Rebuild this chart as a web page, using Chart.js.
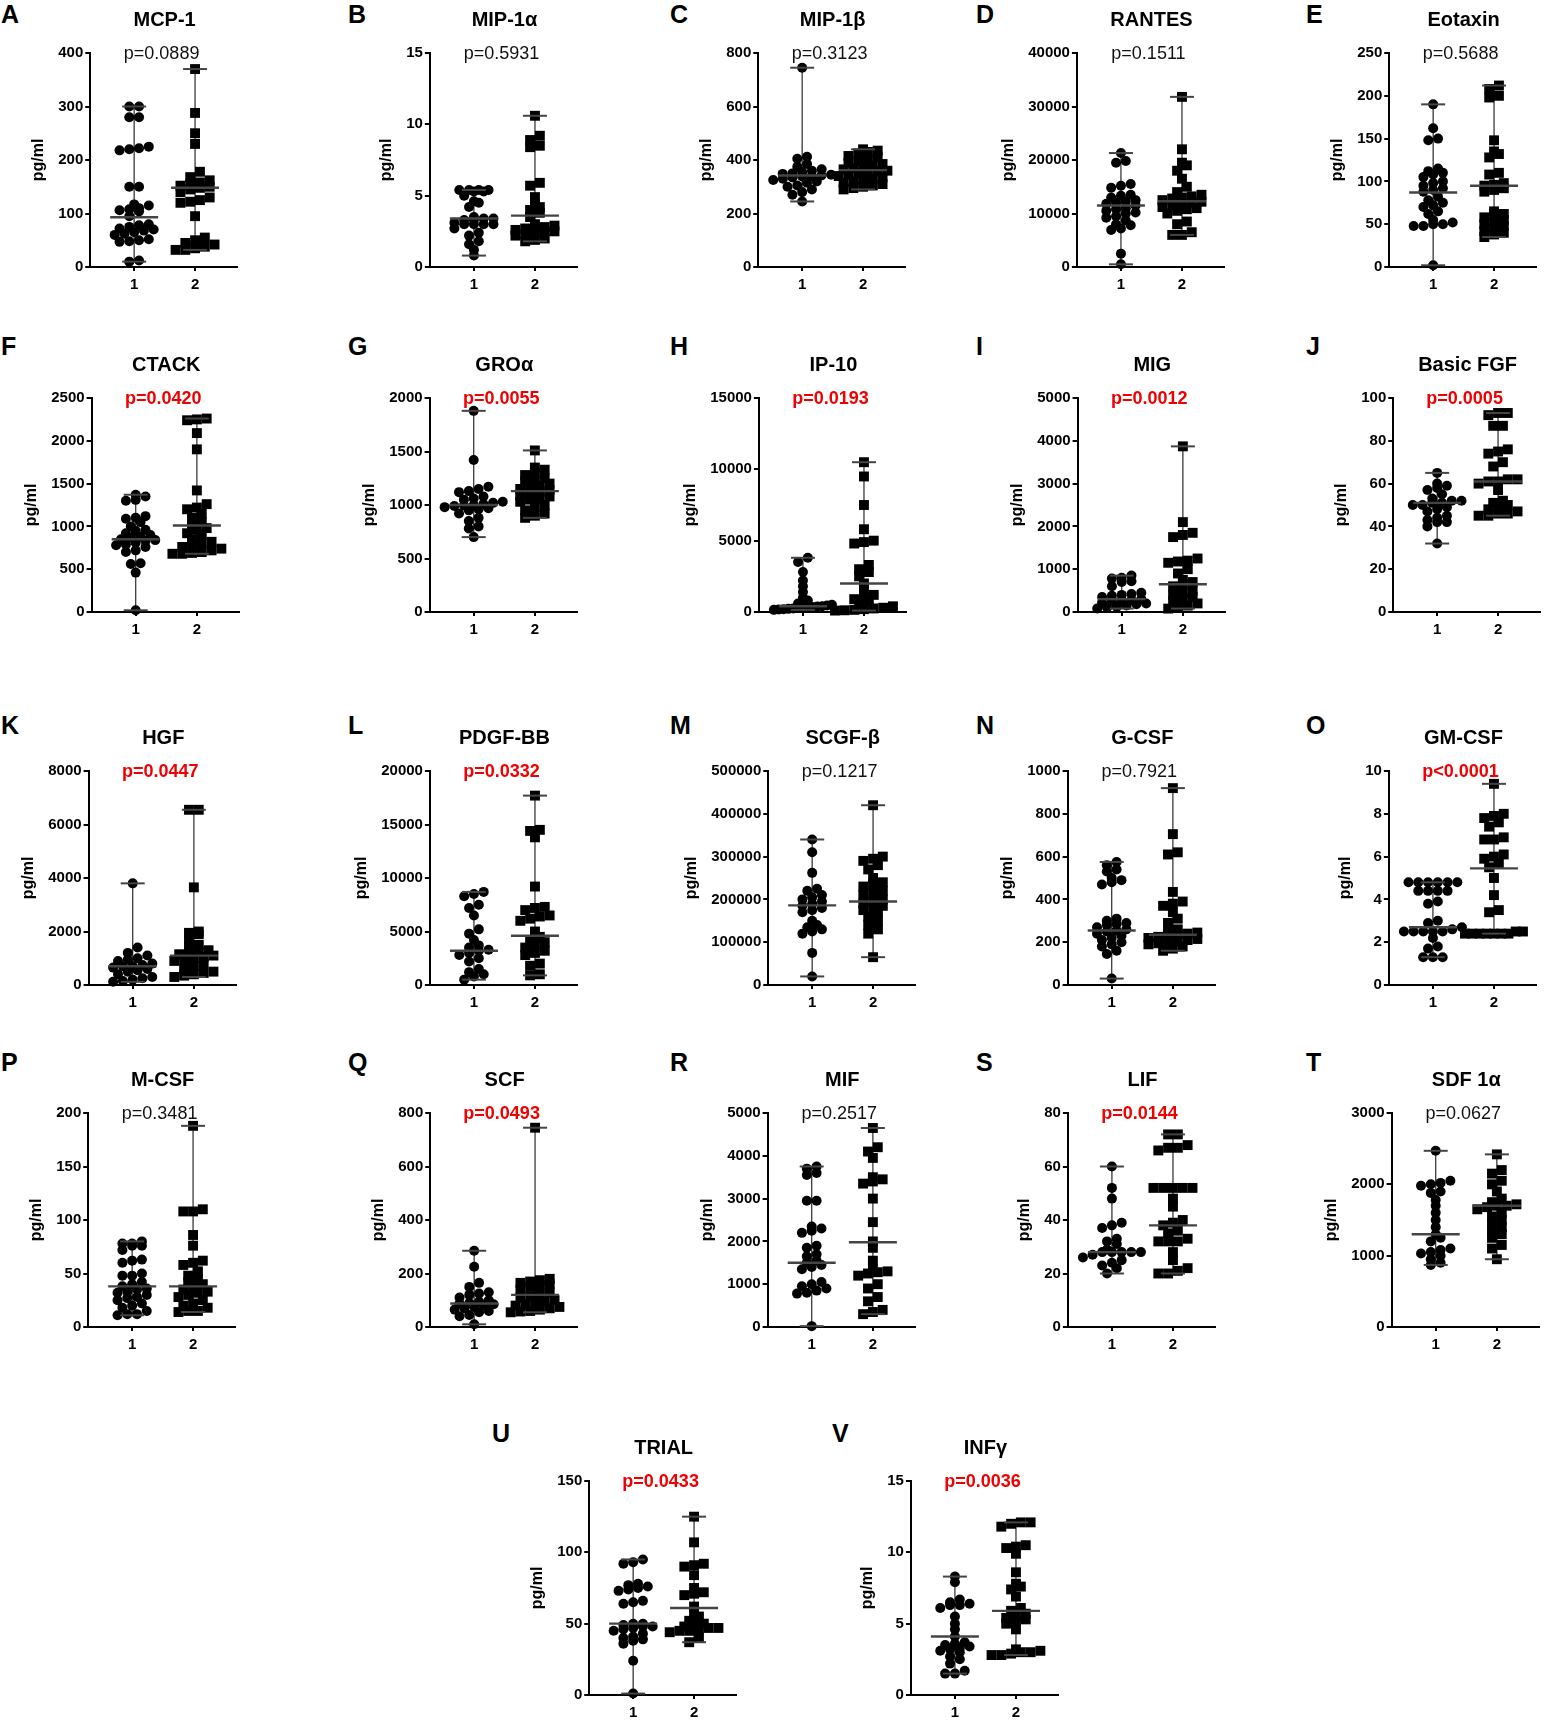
<!DOCTYPE html>
<html>
<head>
<meta charset="utf-8">
<script src="https://cdn.jsdelivr.net/npm/chart.js@4.4.1/dist/chart.umd.min.js"></script>
<style>
  body { margin: 0; background: #fff; }
  #page { position: relative; width: 1550px; height: 1726px; overflow: hidden; font-family: "Liberation Sans", Arial, sans-serif; }
  .panel { position: absolute; }
  .letter { position: absolute; font-weight: bold; font-size: 25px; line-height: 25px; color: #000; }
</style>
</head>
<body>
<div id="page"></div>
<script>
// Панели: буква, название, p-значение
const letters = ['A','B','C','D','E','F','G','H','I','J','K','L','M','N','O','P','Q','R','S','T','U','V'];
const titles = ['MCP-1','MIP-1α','MIP-1β','RANTES','Eotaxin','CTACK','GROα','IP-10','MIG','Basic FGF',
  'HGF','PDGF-BB','SCGF-β','G-CSF','GM-CSF','M-CSF','SCF','MIF','LIF','SDF 1α','TRIAL','INFγ'];
const pLabels = ['p=0.0889','p=0.5931','p=0.3123','p=0.1511','p=0.5688','p=0.0420','p=0.0055','p=0.0193','p=0.0012','p=0.0005',
  'p=0.0447','p=0.0332','p=0.1217','p=0.7921','p<0.0001','p=0.3481','p=0.0493','p=0.2517','p=0.0144','p=0.0627','p=0.0433','p=0.0036'];
const significant = [false,false,false,false,false,true,true,true,true,true,
  true,true,false,false,true,false,true,false,true,false,true,true];

// Оси Y
const yMax  = [400,15,800,40000,250,2500,2000,15000,5000,100,8000,20000,500000,1000,10,200,800,5000,80,3000,150,15];
const yStep = [100,5,200,10000,50,500,500,5000,1000,20,2000,5000,100000,200,2,50,200,1000,20,1000,50,5];
const xLabels = ['1','2'];

// Медианы групп
const median1 = [93,3.4,342,11500,87,850,1000,400,300,51,700,3200,186000,255,2.7,38,88,1500,28,1300,50,4.1];
const median2 = [148,3.6,362,12300,95,1010,1130,2000,650,61,1100,4600,195000,235,5.45,38,120,1980,38,1700,61,5.9];

// Значения группы 1 (кружки)
const group1 = [
  [300,300,280,280,225,222,220,218,150,150,117,115,110,108,106,104,95,80,78,75,72,70,68,65,62,60,52,50,48,47,12,10],
  [5.4,5.4,5.4,5.4,5.3,5.3,5.0,4.6,4.5,4.2,3.5,3.4,3.4,3.3,3.3,3.1,3.0,3.0,3.0,3.0,2.7,2.4,2.2,1.8,1.6,1.2,0.8],
  [745,412,405,385,375,365,360,355,350,348,345,342,340,338,335,330,325,320,315,305,300,290,280,270,245],
  [21300,19800,19500,15500,15200,14800,13500,13300,13000,12500,12200,12000,11800,11500,11000,10800,10500,10200,10000,9500,9200,8700,8000,7800,7200,6900,2500,500],
  [190,162,150,148,115,112,110,108,105,100,98,95,92,90,88,82,78,75,72,70,65,62,55,52,50,50,48,48,2],
  [1370,1350,1310,1300,1120,1100,1090,1050,1000,960,950,920,900,880,870,850,840,830,810,790,780,760,720,700,570,560,460,20],
  [1880,1420,1170,1150,1130,1120,1080,1060,1050,1030,1020,1010,1000,995,990,980,970,960,950,920,880,850,800,780,700],
  [3800,3500,2800,2200,1800,1400,1000,800,600,500,450,400,380,350,320,300,280,250,220,200,180,150],
  [850,800,780,720,700,600,450,420,400,380,350,300,280,260,250,220,200,180,150,120,100,80],
  [65,60,59,58,57,55,53,52,52,51,51,50,50,49,48,47,45,44,43,42,42,40,32],
  [3800,1400,1200,1100,1000,950,900,800,750,700,700,650,600,550,500,400,300,250,200,150,120],
  [8700,8500,8300,7500,7200,6500,5200,4800,4200,3700,3500,3300,3200,3000,2800,2500,2200,1500,1200,1000,800,500],
  [340000,310000,262000,225000,220000,210000,205000,200000,195000,190000,185000,180000,175000,170000,150000,140000,135000,130000,125000,120000,75000,20000],
  [575,560,540,530,500,490,480,470,310,300,290,285,280,270,260,255,250,240,230,220,210,200,190,180,160,145,30],
  [4.8,4.8,4.8,4.8,4.8,4.8,4.4,4.4,4.4,4.4,3.9,3.8,3.0,2.9,2.7,2.6,2.5,2.5,2.5,2.5,2.5,2.2,1.8,1.7,1.3,1.3,1.3],
  [80,78,78,76,76,72,63,62,60,50,48,48,42,40,38,36,35,33,32,30,28,27,25,22,20,18,15,12,12,11],
  [285,225,165,150,130,125,120,110,100,95,90,88,85,80,75,70,65,60,55,45,40,10],
  [3750,3700,3600,3550,2950,2950,2350,2300,2250,2200,1900,1850,1700,1650,1550,1500,1450,1400,1350,1050,1000,950,900,850,800,780,20],
  [60,52,48,39,38,37,33,32,31,29,28,28,28,28,28,27,26,25,24,23,22,20],
  [2470,2050,2020,2000,1980,1900,1880,1780,1700,1600,1500,1400,1300,1250,1200,1100,1080,1050,1030,1000,950,900,870],
  [95,93,92,78,77,76,75,74,73,66,65,64,50,50,49,48,48,47,46,45,43,41,40,39,38,36,24,1],
  [8.3,7.9,6.7,6.5,6.4,6.3,6.3,6.1,5.5,5.0,4.6,4.1,3.7,3.6,3.5,3.4,3.3,3.2,3.1,3.0,2.7,2.5,2.2,1.7,1.5,1.5]
];

// Значения группы 2 (квадраты)
const group2 = [
  [370,288,250,230,178,168,162,158,155,152,150,148,145,140,130,125,122,120,95,55,50,45,42,38,35,32,32],
  [10.6,9.2,8.9,8.5,8.4,5.9,5.7,4.9,4.4,4.2,4.0,3.8,3.5,3.0,2.9,2.8,2.7,2.7,2.6,2.5,2.5,2.4,2.3,2.2,2.0,1.9,1.8],
  [440,435,430,425,415,410,400,395,390,385,380,375,370,365,360,358,355,350,345,340,335,330,325,320,315,310,305,300,295,290],
  [31800,22000,19500,19000,18000,16500,15000,14000,13500,13200,13000,12800,12500,12200,12000,11800,11500,11200,11000,10800,10500,10000,8500,8000,6500,6000,6000],
  [212,208,200,198,148,135,132,128,110,108,98,96,95,92,90,88,65,62,60,58,55,52,50,48,45,42,40,38,35],
  [2260,2250,2240,2090,1900,1420,1260,1220,1200,1150,1100,1050,1000,980,960,920,900,850,820,800,780,760,740,720,700,690,680,680],
  [1510,1350,1330,1300,1280,1250,1230,1220,1200,1180,1160,1150,1140,1120,1100,1090,1080,1060,1050,1030,1000,980,950,920,900,880],
  [10500,9500,7500,5800,5000,4900,4800,3300,3000,2800,2500,2000,1500,1200,1000,900,800,500,400,300,250,200,150,120,100],
  [3870,2100,1850,1800,1750,1250,1200,1180,1150,1000,900,750,700,650,600,500,450,400,350,300,250,200,150,100,80],
  [93,93,92,87,87,76,75,74,70,68,62,62,61,61,60,57,52,51,50,49,48,47,46,46,45,45],
  [6550,6550,3650,2000,1950,1900,1700,1500,1400,1300,1250,1200,1150,1100,1050,1000,950,900,800,700,600,500,450,400,350,300],
  [17700,14500,14400,13800,9200,7300,7200,7000,6500,6400,6200,6000,5000,4500,4200,4000,3800,3500,3200,3000,2800,2000,1800,1000,900],
  [420000,300000,295000,290000,280000,270000,250000,240000,235000,230000,220000,215000,210000,200000,195000,190000,185000,180000,175000,170000,160000,150000,140000,130000,120000,65000],
  [920,705,620,610,435,390,380,370,340,310,290,260,250,245,240,235,230,225,220,215,210,205,200,195,190,180,170,160],
  [9.4,8.0,7.9,7.8,7.6,7.4,6.9,6.8,6.8,6.1,6.0,5.9,5.7,5.5,5.0,4.2,3.5,3.4,2.5,2.5,2.4,2.4,2.4,2.4,2.4,2.4,2.4],
  [188,110,108,108,86,76,62,60,58,52,48,45,42,40,38,35,33,32,30,28,25,22,20,18,15,15,14],
  [745,180,175,170,165,160,155,150,140,130,120,115,110,100,95,90,85,80,75,70,65,60,58,55],
  [4650,4200,4100,3950,3500,3450,3400,3350,3000,2450,2000,1850,1550,1350,1300,1280,1250,1200,1000,900,700,600,400,350,300],
  [72,72,68,67,67,66,52,52,52,52,52,48,45,40,39,38,36,35,33,32,32,32,28,25,22,21,20,20],
  [2420,2200,2150,2050,2000,1900,1800,1750,1720,1700,1700,1680,1650,1600,1550,1500,1450,1400,1350,1300,1250,1150,1100,950],
  [125,107,92,91,90,84,75,72,71,70,62,58,55,52,50,49,48,47,47,46,45,45,44,40,37],
  [12.1,12.1,12.0,11.8,10.5,10.4,10.3,9.9,8.6,7.8,7.6,7.4,6.9,6.1,5.9,5.7,5.5,5.4,5.3,5.2,5.0,4.6,3.2,3.1,3.0,3.0,2.9,2.8,2.8]
];

// Раскладка панелей на странице
const panelRow = [0,0,0,0,0, 1,1,1,1,1, 2,2,2,2,2, 3,3,3,3,3, 4,4];
const rowTop = [53, 398, 771, 1113, 1481];
const letterRowY = [14, 346, 725, 1062, 1433];
const g1X = [134,474,802,1121,1433, 136,474,803,1122,1437, 133,474,812,1112,1433, 132,474,812,1112,1436, 633,955];
const letterX = [1,348,670,976,1306, 1,348,670,976,1306, 1,348,670,976,1306, 1,348,670,976,1306, 492,832];
const GAP = 61;        // пикселей между группами 1 и 2
const AXIS_OFF = 44;   // от оси Y до группы 1
const RIGHT_OFF = 42;  // от группы 2 до конца оси X
const PLOT_H = 214;
const X_MIN = 1 - AXIS_OFF / GAP;
const X_MAX = 2 + RIGHT_OFF / GAP;
const PLOT_W = (X_MAX - X_MIN) * GAP;
const FONT = '"Liberation Sans", Arial, sans-serif';

// Раскладка точек рядами, как в GraphPad
function spread(values, top, center) {
  const tol = top * 0.026;
  const sorted = values.slice().sort((a, b) => a - b);
  const pts = [];
  let i = 0;
  while (i < sorted.length) {
    let j = i;
    while (j < sorted.length && sorted[j] - sorted[i] < tol) j++;
    const n = j - i;
    let d = 0.16;
    if ((n - 1) * d > 0.95) d = 0.95 / (n - 1);
    for (let k = 0; k < n; k++) {
      pts.push({ x: center + (k - (n - 1) / 2) * d, y: sorted[i + k] });
    }
    i = j;
  }
  return pts;
}

// Размах (min-max) и медиана
const rangeMarks = {
  id: 'rangeMarks',
  beforeDatasetsDraw(chart, args, opts) {
    const ctx = chart.ctx, xs = chart.scales.x, ys = chart.scales.y;
    ctx.save();
    ctx.strokeStyle = '#3a3a3a';
    ctx.lineWidth = 1.3;
    opts.groups.forEach(g => {
      const x = xs.getPixelForValue(g.x);
      ctx.beginPath();
      ctx.moveTo(x, ys.getPixelForValue(Math.min(...g.values)));
      ctx.lineTo(x, ys.getPixelForValue(Math.max(...g.values)));
      ctx.stroke();
    });
    ctx.restore();
  },
  afterDatasetsDraw(chart, args, opts) {
    const ctx = chart.ctx, xs = chart.scales.x, ys = chart.scales.y;
    ctx.save();
    ctx.strokeStyle = '#444';
    opts.groups.forEach(g => {
      const x = xs.getPixelForValue(g.x);
      ctx.lineWidth = 2;
      [Math.min(...g.values), Math.max(...g.values)].forEach(v => {
        const y = ys.getPixelForValue(v);
        ctx.beginPath(); ctx.moveTo(x - 12, y); ctx.lineTo(x + 12, y); ctx.stroke();
      });
      ctx.lineWidth = 2.4;
      const ym = ys.getPixelForValue(g.median);
      ctx.beginPath(); ctx.moveTo(x - 24, ym); ctx.lineTo(x + 24, ym); ctx.stroke();
    });
    ctx.restore();
  }
};

// Название и p-значение над графиком
const panelText = {
  id: 'panelText',
  afterDraw(chart, args, opts) {
    const ctx = chart.ctx, area = chart.chartArea;
    const cx = chart.scales.x.getPixelForValue(1.5);
    ctx.save();
    ctx.textAlign = 'center';
    ctx.textBaseline = 'middle';
    ctx.fillStyle = '#000';
    ctx.font = 'bold 20px ' + FONT;
    ctx.fillText(opts.title, cx, area.top - 33);
    ctx.font = (opts.sig ? 'bold ' : '') + '18px ' + FONT;
    ctx.fillStyle = opts.sig ? '#f00000' : '#111';
    ctx.fillText(opts.p, cx - 3, area.top + 1);
    ctx.restore();
  }
};

function makeConfig(i) {
  return {
    type: 'scatter',
    data: {
      datasets: [
        { data: spread(group1[i], yMax[i], 1), pointStyle: 'circle', pointRadius: 5,
          backgroundColor: '#000', borderWidth: 0, clip: false },
        { data: spread(group2[i], yMax[i], 2), pointStyle: 'rect', pointRadius: 7,
          backgroundColor: '#000', borderWidth: 0, clip: false }
      ]
    },
    options: {
      responsive: false,
      animation: false,
      events: [],
      layout: { padding: { top: 50, right: 4, bottom: 2, left: 2 } },
      plugins: {
        legend: { display: false },
        tooltip: { enabled: false },
        rangeMarks: { groups: [
          { x: 1, values: group1[i], median: median1[i] },
          { x: 2, values: group2[i], median: median2[i] }
        ] },
        panelText: { title: titles[i], p: pLabels[i], sig: significant[i] }
      },
      scales: {
        x: {
          type: 'linear', min: X_MIN, max: X_MAX,
          afterBuildTicks: s => { s.ticks = [{ value: 1 }, { value: 2 }]; },
          ticks: { callback: v => xLabels[v - 1], color: '#000', padding: 5,
                   font: { family: FONT, size: 15, weight: 'bold' }, maxRotation: 0 },
          grid: { drawOnChartArea: false, drawTicks: true, tickLength: 4, color: '#000', lineWidth: 2 },
          border: { display: true, color: '#000', width: 2 }
        },
        y: {
          min: 0, max: yMax[i],
          ticks: { stepSize: yStep[i], callback: v => String(v), color: '#000', padding: 2,
                   font: { family: FONT, size: 15, weight: 'bold' } },
          grid: { drawOnChartArea: false, drawTicks: true, tickLength: 5, color: '#000', lineWidth: 2 },
          border: { display: true, color: '#000', width: 2 },
          title: { display: true, text: 'pg/ml', color: '#000', padding: { top: 0, bottom: 8 },
                   font: { family: FONT, size: 16, weight: 'bold' } }
        }
      }
    },
    plugins: [rangeMarks, panelText]
  };
}

const page = document.getElementById('page');

letters.forEach((L, i) => {
  const r = panelRow[i];
  const lab = document.createElement('div');
  lab.className = 'letter';
  lab.textContent = L;
  lab.style.left = letterX[i] + 'px';
  lab.style.top = (letterRowY[r] - 12) + 'px';
  page.appendChild(lab);

  const wrap = document.createElement('div');
  wrap.className = 'panel';
  page.appendChild(wrap);

  // первый проход: узнаём размеры области графика
  const w0 = 280, h0 = 320;
  let cv = document.createElement('canvas');
  cv.width = w0; cv.height = h0;
  wrap.appendChild(cv);
  let chart = new Chart(cv, makeConfig(i));
  const dw = PLOT_W - (chart.chartArea.right - chart.chartArea.left);
  const dh = PLOT_H - (chart.chartArea.bottom - chart.chartArea.top);
  chart.destroy();
  wrap.removeChild(cv);

  // второй проход: точный размер
  cv = document.createElement('canvas');
  cv.width = Math.round(w0 + dw); cv.height = Math.round(h0 + dh);
  wrap.appendChild(cv);
  chart = new Chart(cv, makeConfig(i));
  wrap.style.left = (g1X[i] - AXIS_OFF - chart.chartArea.left) + 'px';
  wrap.style.top = (rowTop[r] - chart.chartArea.top) + 'px';
});
</script>
</body>
</html>
